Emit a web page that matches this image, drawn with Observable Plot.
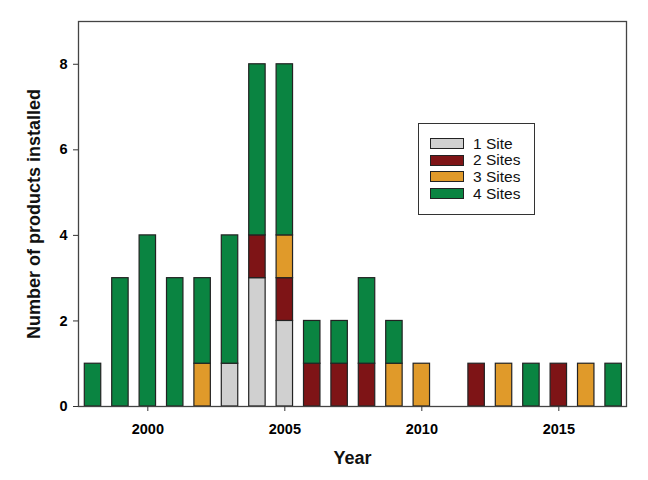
<!DOCTYPE html>
<html>
<head>
<meta charset="utf-8">
<script src="https://cdn.jsdelivr.net/npm/d3@7"></script>
<script src="https://cdn.jsdelivr.net/npm/@observablehq/plot@0.6"></script>
<style>
  html, body { margin: 0; padding: 0; background: #fff; }
  #wrap { position: relative; width: 648px; height: 480px; font-family: "Liberation Sans", Arial, sans-serif; }
  #legend { position: absolute; left: 418px; top: 123px; width: 117px; height: 92px; border: 1.5px solid #333; background: #fff; box-sizing: border-box; }
  .row { position: absolute; left: 11px; height: 17px; display: flex; align-items: center; font-size: 15.5px; color: #111; }
  .sw { width: 34px; height: 11px; border: 1px solid #222; margin-right: 9px; box-sizing: border-box; }
</style>
</head>
<body>
<div id="wrap"></div>
<script>
const years = [1998,1999,2000,2001,2002,2003,2004,2005,2006,2007,2008,2009,2010,2011,2012,2013,2014,2015,2016,2017];
const site1 = [0,0,0,0,0,1,3,2,0,0,0,0,0,0,0,0,0,0,0,0];
const site2 = [0,0,0,0,0,0,1,1,1,1,1,0,0,0,1,0,0,1,0,0];
const site3 = [0,0,0,0,1,0,0,1,0,0,0,1,1,0,0,1,0,0,1,0];
const site4 = [1,3,4,3,2,3,4,4,1,1,2,1,0,0,0,0,1,0,0,1];
const seriesNames = ["1 Site", "2 Sites", "3 Sites", "4 Sites"];
const seriesColors = ["#d0d0d0", "#7e1416", "#e09a2a", "#0a8441"];
const xTicks = [2000, 2005, 2010, 2015];
const yTicks = [0, 2, 4, 6, 8];

const series = [site1, site2, site3, site4];
const rows = [];
years.forEach((yr, i) => {
  let base = 0;
  series.forEach((s, k) => {
    const v = s[i];
    if (v > 0) rows.push({year: yr, series: seriesNames[k], y1: base, y2: base + v});
    base += v;
  });
});

const half = 0.3;
const chart = Plot.plot({
  width: 648,
  height: 480,
  marginLeft: 78,
  marginRight: 22,
  marginTop: 21,
  marginBottom: 74,
  style: {fontFamily: "Liberation Sans, Arial, sans-serif", background: "#fff"},
  x: {domain: [1997.47, 2017.47]},
  y: {domain: [0, 9]},
  color: {domain: seriesNames, range: seriesColors},
  marks: [
    Plot.rect(rows, {x1: d => d.year - half, x2: d => d.year + half, y1: "y1", y2: "y2", fill: "series", stroke: "#222", strokeWidth: 1.2}),
    Plot.frame({stroke: "#444", strokeWidth: 1.3}),
    Plot.axisX({ticks: xTicks, tickFormat: d => String(d), tickSize: 5, tickPadding: 12, fontSize: 14.5, fontWeight: "bold", label: null, stroke: "#333"}),
    Plot.axisY({ticks: yTicks, tickSize: 5, tickPadding: 6, fontSize: 14.5, fontWeight: "bold", label: null, stroke: "#333"}),
    Plot.text(["Year"], {frameAnchor: "bottom", dy: 57, fontSize: 18, fontWeight: "bold", fill: "#111"}),
    Plot.text(["Number of products installed"], {frameAnchor: "left", textAnchor: "middle", dx: -44, rotate: -90, fontSize: 18, fontWeight: "bold", fill: "#111"})
  ]
});

const wrap = document.getElementById("wrap");
wrap.appendChild(chart);
const legend = document.createElement("div");
legend.id = "legend";
seriesNames.forEach((name, k) => {
  const r = document.createElement("div");
  r.className = "row";
  r.style.top = (11 + k * 16.7) + "px";
  const sw = document.createElement("span");
  sw.className = "sw";
  sw.style.background = seriesColors[k];
  const t = document.createElement("span");
  t.textContent = name;
  r.appendChild(sw); r.appendChild(t);
  legend.appendChild(r);
});
wrap.appendChild(legend);
</script>
</body>
</html>
